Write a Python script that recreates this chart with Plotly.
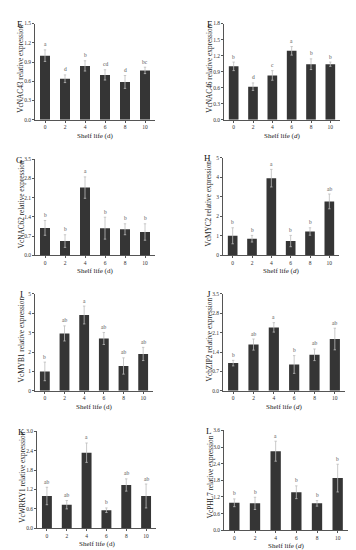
import plotly.graph_objects as go

W, H = 356, 550

days = ["0", "2", "4", "6", "8", "10"]

# Panel E: VcNAC43
nac43_mean = [1.00, 0.64, 0.84, 0.70, 0.59, 0.77]
nac43_err = [0.09, 0.06, 0.08, 0.08, 0.10, 0.05]
nac43_sig = ["a", "d", "b", "cd", "d", "bc"]

# Panel F: VcNAC46
nac46_mean = [1.00, 0.62, 0.83, 1.29, 1.04, 1.04]
nac46_err = [0.08, 0.07, 0.09, 0.08, 0.10, 0.04]
nac46_sig = ["b", "d", "c", "a", "b", "b"]

# Panel G: VcNAC62
nac62_mean = [1.00, 0.52, 2.47, 0.99, 0.95, 0.85]
nac62_err = [0.27, 0.23, 0.39, 0.40, 0.20, 0.30]
nac62_sig = ["b", "b", "a", "b", "b", "b"]

# Panel H: VcMYC2
myc2_mean = [1.00, 0.85, 3.95, 0.73, 1.22, 2.76]
myc2_err = [0.41, 0.17, 0.45, 0.29, 0.19, 0.38]
myc2_sig = ["b", "b", "a", "b", "b", "ab"]

# Panel I: VcMYB1
myb1_mean = [1.00, 2.96, 3.91, 2.70, 1.28, 1.90]
myb1_err = [0.48, 0.39, 0.46, 0.31, 0.42, 0.34]
myb1_sig = ["b", "ab", "a", "ab", "ab", "ab"]

# Panel J: VcbZIP2
bzip2_mean = [1.00, 1.67, 2.29, 0.95, 1.30, 1.87]
bzip2_err = [0.10, 0.20, 0.17, 0.32, 0.21, 0.39]
bzip2_sig = ["b", "ab", "a", "b", "ab", "ab"]

# Panel K: VcWRKY1
wrky1_mean = [1.00, 0.73, 2.34, 0.56, 1.34, 1.00]
wrky1_err = [0.27, 0.13, 0.30, 0.07, 0.19, 0.37]
wrky1_sig = ["ab", "ab", "a", "b", "ab", "ab"]

# Panel L: VcPHL7
phl7_mean = [0.99, 0.97, 2.85, 1.37, 0.97, 1.88]
phl7_err = [0.14, 0.22, 0.36, 0.23, 0.10, 0.50]
phl7_sig = ["b", "b", "a", "b", "b", "b"]

panels = [
    # letter, ylabel, mean, err, sig, ymax, dtick, fmt, italic d, box (x0, x1, ybottom, ytop) in px
    ("E", "VcNAC43 relative expression", nac43_mean, nac43_err, nac43_sig, 1.5, 0.3, ".1f", False, (27, 147, 110, 12.7)),
    ("F", "VcNAC46 relative expression", nac46_mean, nac46_err, nac46_sig, 1.8, 0.3, ".1f", True, (216, 332, 110, 12.7)),
    ("G", "VcNAC62 relative expression", nac62_mean, nac62_err, nac62_sig, 3.5, 0.7, ".1f", False, (27, 147, 247, 150)),
    ("H", "VcMYC2 relative expression", myc2_mean, myc2_err, myc2_sig, 5, 1, "d", True, (215, 331, 247, 148.3)),
    ("I", "VcMYB1 relative expression", myb1_mean, myb1_err, myb1_sig, 5, 1, "d", False, (27, 145, 384, 286)),
    ("J", "VcbZIP2 relative expression", bzip2_mean, bzip2_err, bzip2_sig, 3.5, 0.7, ".1f", True, (215, 337, 384, 286)),
    ("K", "VcWRKY1 relative expression", wrky1_mean, wrky1_err, wrky1_sig, 3.0, 0.6, ".1f", False, (29, 148, 523, 425)),
    ("L", "VcPHL7 relative expression", phl7_mean, phl7_err, phl7_sig, 3.6, 0.6, ".1f", True, (216, 340, 525, 424)),
]

FONT = "Liberation Serif"
fig = go.Figure()
annotations = []
layout = {}

for i, (letter, ylab, mean, err, sig, ymax, dtick, fmt, ital, box) in enumerate(panels):
    n = i + 1
    xa = "x" if n == 1 else f"x{n}"
    ya = "y" if n == 1 else f"y{n}"
    x0, x1, yb, yt = box
    fig.add_trace(go.Bar(
        x=days, y=mean, xaxis=xa, yaxis=ya,
        marker=dict(color="#353535", line=dict(width=0)),
        width=0.5,
        error_y=dict(type="data", array=err, symmetric=True,
                     color="#bdbdbd", thickness=0.8, width=1.2),
        showlegend=False, hoverinfo="skip",
    ))
    xkey = "xaxis" if n == 1 else f"xaxis{n}"
    ykey = "yaxis" if n == 1 else f"yaxis{n}"
    layout[xkey] = dict(
        domain=[x0 / W, x1 / W], anchor=ya, type="category",
        range=[-0.5, 5.5], showline=True, linecolor="#555", linewidth=0.8,
        ticks="outside", ticklen=2, tickcolor="#555", tickwidth=0.6,
        tickfont=dict(family=FONT, size=5.5, color="#333"),
        showgrid=False, zeroline=False, fixedrange=True,
    )
    layout[ykey] = dict(
        domain=[1 - yb / H, 1 - yt / H], anchor=xa,
        range=[0, ymax], dtick=dtick, tick0=0, tickformat=fmt,
        showline=True, linecolor="#555", linewidth=0.8,
        ticks="outside", ticklen=2, tickcolor="#555", tickwidth=0.6,
        tickfont=dict(family=FONT, size=5.5, color="#333"),
        showgrid=False, zeroline=False, fixedrange=True,
    )
    # significance letters
    for k, (m, e, s) in enumerate(zip(mean, err, sig)):
        annotations.append(dict(
            x=k, y=m + e, xref=xa, yref=ya, text=s, showarrow=False,
            yanchor="bottom", yshift=0.5,
            font=dict(family=FONT, size=5.5, color="#555"),
        ))
    # y title
    annotations.append(dict(
        x=(x0 - 14) / W, y=1 - ((yb + yt) / 2 - 3) / H, xref="paper", yref="paper",
        text=ylab, textangle=-90, showarrow=False, xanchor="center", yanchor="middle",
        font=dict(family=FONT, size=7.3, color="#222222"),
    ))
    # x title
    dtxt = "Shelf life (<i>d</i>)" if ital else "Shelf life (d)"
    annotations.append(dict(
        x=(x0 + x1) / 2 / W, y=1 - (yb + 16) / H, xref="paper", yref="paper",
        text=dtxt, showarrow=False, xanchor="center", yanchor="middle",
        font=dict(family=FONT, size=7, color="#222222"),
    ))
    # panel letter
    annotations.append(dict(
        x=(x0 - 10.5) / W, y=1 - (yt + 0.5) / H, xref="paper", yref="paper",
        text=letter, showarrow=False, xanchor="right", yanchor="middle",
        font=dict(family=FONT, size=9, color="#111111"),
    ))

fig.update_layout(
    width=W, height=H, margin=dict(l=0, r=0, t=0, b=0),
    paper_bgcolor="white", plot_bgcolor="white",
    annotations=annotations, **layout,
)

fig.write_html("out.html")
